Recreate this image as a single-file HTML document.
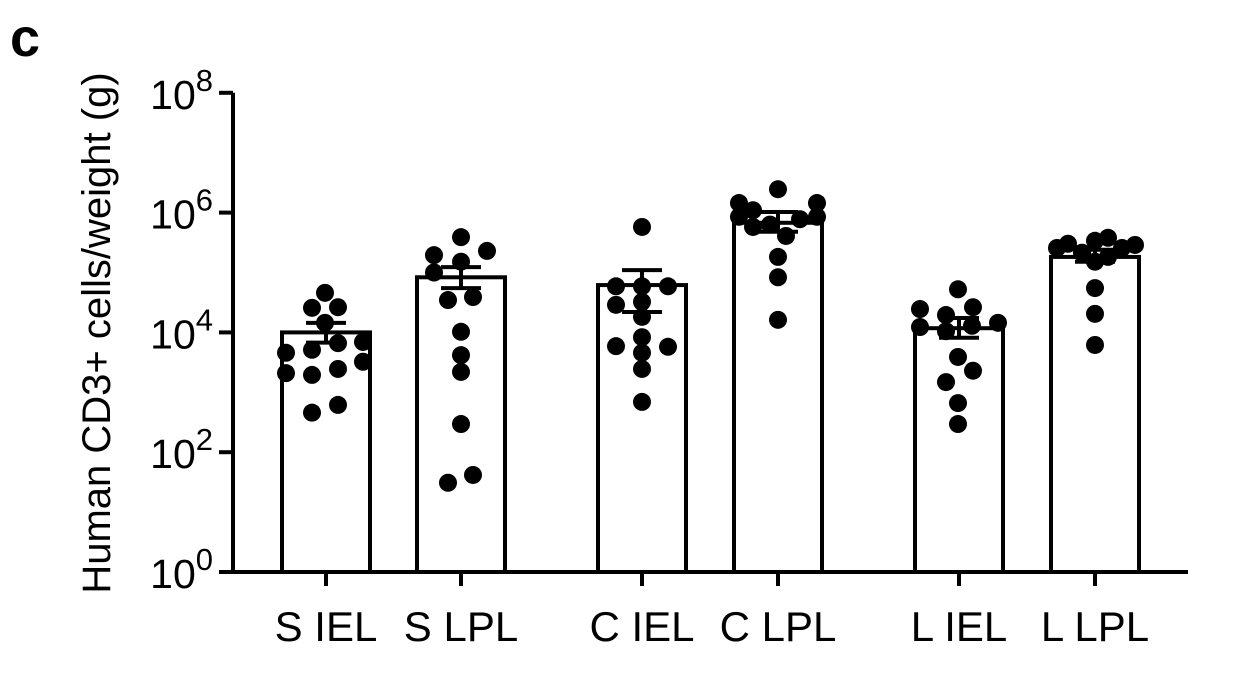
<!DOCTYPE html>
<html><head><meta charset="utf-8"><style>
body{margin:0;background:#fff}
svg{font-family:"Liberation Sans",Arial,sans-serif}
</style></head><body>
<svg id="chart" width="1236" height="680" viewBox="0 0 1236 680" xmlns="http://www.w3.org/2000/svg">
<text x="10" y="56" font-size="54" font-weight="bold">c</text>
<text transform="translate(110,333) rotate(-90)" text-anchor="middle" font-size="40">Human CD3+ cells/weight (g)</text>
<g id="plot"></g>
</svg>
<script>
const categories=["S IEL","S LPL","C IEL","C LPL","L IEL","L LPL"];
const tickExps=[0,2,4,6,8];
// values in log10(cells/g)
const barMeans=[4.0,4.92,4.79,5.83,4.07,5.26];
const errHi=[4.16,5.09,5.04,6.01,4.24,5.38];
const errLo=[3.83,4.74,4.34,5.68,3.91,5.18];
const pts0=[4.66,4.41,4.42,4.16,3.66,3.71,3.82,3.84,3.51,3.32,3.29,3.39,2.66,2.79];
const pts1=[5.59,5.29,5.36,5.18,5.0,4.54,4.59,4.01,3.62,3.34,2.47,1.49,1.62];
const pts2=[5.76,4.77,4.77,4.77,4.46,4.51,4.26,3.77,3.92,3.76,3.66,3.39,2.84];
const pts3=[6.39,6.16,6.16,5.93,6.04,5.76,5.80,5.89,5.93,5.61,5.26,4.92,4.21];
const pts4=[4.72,4.39,4.29,4.42,4.09,4.02,4.11,4.16,3.59,3.36,3.17,2.82,2.47];
const pts5=[5.41,5.48,5.53,5.58,5.41,5.46,5.33,5.18,5.26,4.74,4.31,3.79];
const points=[pts0,pts1,pts2,pts3,pts4,pts5];
// horizontal jitter (px) for dot layout
const jit=[[-1,-14,12,-1,-40,-14,12,37,37,-40,-14,12,-14,12],
[0,-27,26,0,-27,-13,12,0,0,0,0,-13,12],
[0,-26,0,26,-26,0,0,-26,0,26,0,0,0],
[0,-39,39,-39,-25,-25,-8,22,39,8,0,0,0],
[-1,-39,-13,14,-39,-13,13,39,-1,14,-13,-1,-1],
[-38,-27,0,13,27,40,-13,0,13,0,0,0]];
const centers=[326,461,642,778,959,1095];
const barW=88;
const yBase=572, decade=59.9;
const y=v=>yBase-v*decade;
const NS="http://www.w3.org/2000/svg";
const g=document.getElementById('plot');
function mk(t,a){const e=document.createElementNS(NS,t);for(const k in a)e.setAttribute(k,a[k]);g.appendChild(e);return e;}
categories.forEach((c,i)=>{
 const cx=centers[i];
 const r=mk('rect',{x:cx-barW/2,y:y(barMeans[i]),width:barW,height:yBase-y(barMeans[i]),fill:'#fff',stroke:'#000','stroke-width':4});
 
 
});
points.forEach((arr,i)=>{arr.forEach((v,j)=>{
 const d=mk('circle',{cx:centers[i]+jit[i][j],cy:y(v),r:9,fill:'#000'});
 
 
});});
categories.forEach((c,i)=>{
 const cx=centers[i];
 const e=mk('path',{d:`M${cx},${y(errHi[i])}V${y(errLo[i])}M${cx-20},${y(errHi[i])}H${cx+20}M${cx-20},${y(errLo[i])}H${cx+20}`,stroke:'#000','stroke-width':4,fill:'none'});
 
 
});
const ax=mk('path',{d:`M233,${y(8)}V${yBase}H1188`,stroke:'#000','stroke-width':4,fill:'none'});


tickExps.forEach(t=>{
 const tk=mk('line',{x1:219,x2:233,y1:y(t),y2:y(t),stroke:'#000','stroke-width':4});
 
 
 const tx=mk('text',{x:213,y:y(t)+16,'text-anchor':'end','font-size':41});
 
 
 tx.innerHTML='10<tspan dy="-18" font-size="31">'+t+'</tspan>';
});
categories.forEach((c,i)=>{
 const tk=mk('line',{x1:centers[i],x2:centers[i],y1:yBase,y2:yBase+14,stroke:'#000','stroke-width':4});
 
 
 const tx=mk('text',{x:centers[i],y:641,'text-anchor':'middle','font-size':42});
 
 
 tx.textContent=c;
});
</script>
</body></html>
